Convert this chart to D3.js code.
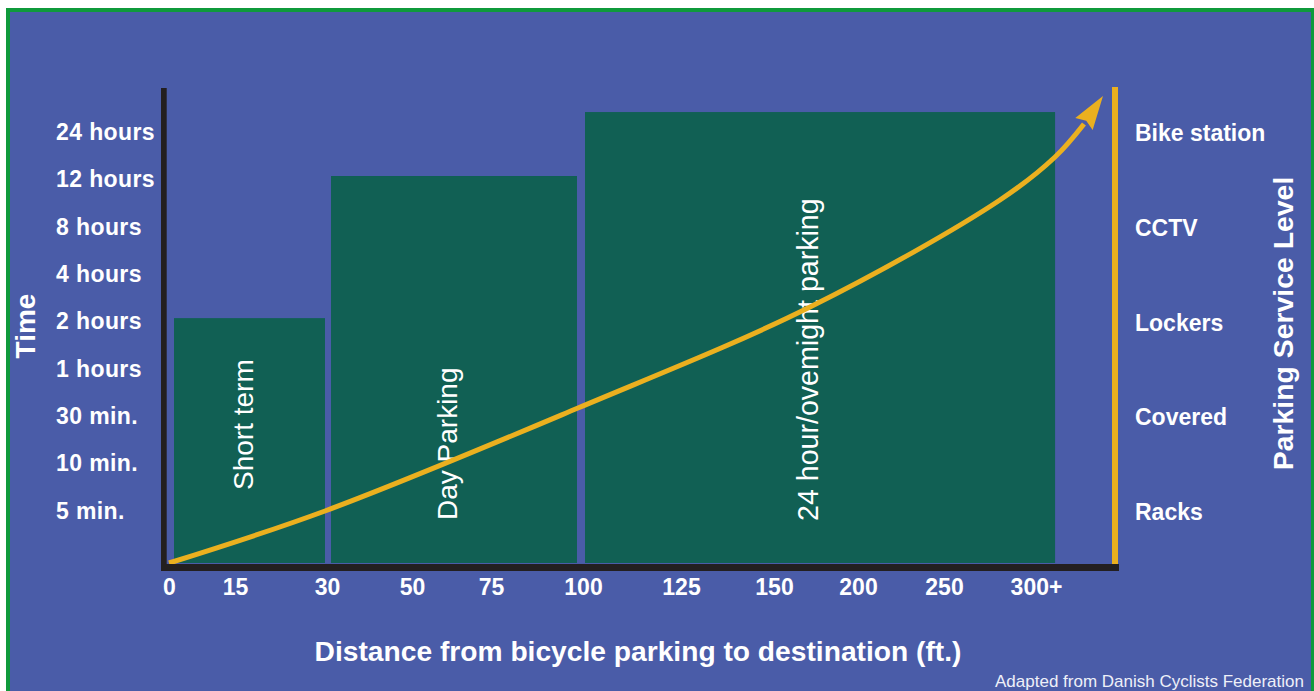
<!DOCTYPE html>
<html><head><meta charset="utf-8">
<script src="https://cdn.jsdelivr.net/npm/d3@7"></script>
<style>
html,body{margin:0;padding:0;background:#fff;}
svg{display:block;}
text{font-family:"Liberation Sans", Arial, Helvetica, sans-serif;}
</style>
</head><body>
<svg id="chart" width="1314" height="691"></svg>
<script>
// ---------- data ----------
const timeLabels = ["5 min.","10 min.","30 min.","1 hours","2 hours","4 hours","8 hours","12 hours","24 hours"];
const serviceLabels = ["Racks","Covered","Lockers","CCTV","Bike station"];
const distanceTicks = [0,15,30,50,75,100,125,150,200,250,300];
const distanceTickLabels = ["0","15","30","50","75","100","125","150","200","250","300+"];
const parkingTypes = ["Short term","Day Parking","24 hour/ovemight parking"];
const distanceFrom = [0,30,100];
const distanceTo = [30,100,312];
const timeLevel = [4.05,7.05,8.4];           // bar tops, in time-label steps
const curveX = [0,16.49,43.23,67.76,87.84,93.66,96.72]; // % of frame width
const curveY = [0,10.95,32.63,53.89,76.42,85.47,92.42]; // % of frame height
const arrowTip = [98.73,98.32];
const xTitle = "Distance from bicycle parking to destination (ft.)";
const yTitle = "Time";
const rightTitle = "Parking Service Level";
const credit = "Adapted from Danish Cyclists Federation";

// ---------- layout ----------
const W = 1314, H = 691;
const C = {bg:"#4a5ca8", frame:"#0f9a3b", bar:"#116054", yellow:"#ebb01f", axis:"#231f20", text:"#ffffff"};
const xTickPx = [169,235,327,412,491,583,681,774,858,944,1036];
const plotBottom = 563, plotTop = 88;
const frameLeft = 169, frameRight = 1115;
const labelShift = [5,2,-3];          // baseline offset from bar centre
const labelStartY = [490,520,521];
const gapL = [5,4,2], gapR = [2,6,3];

const svg = d3.select("#chart");
svg.append("rect").attr("x",0).attr("y",0).attr("width",W).attr("height",H).attr("fill","#fff");
svg.append("rect").attr("x",6).attr("y",8).attr("width",W-6).attr("height",H).attr("fill",C.frame);
svg.append("rect").attr("x",10).attr("y",12).attr("width",1301).attr("height",H).attr("fill",C.bg);

const x = d3.scaleLinear().domain(distanceTicks).range(xTickPx);
const y = d3.scaleLinear().domain([0,timeLabels.length-1]).range([510,131]);
const s = d3.scaleLinear().domain([0,serviceLabels.length-1]).range([511.5,132]);
const fx = d3.scaleLinear().domain([0,100]).range([frameLeft,frameRight]);
const fy = d3.scaleLinear().domain([0,100]).range([plotBottom,plotTop]);

// bars
const bars = parkingTypes.map((name,i)=>({name,from:distanceFrom[i],to:distanceTo[i],level:timeLevel[i],i}));
svg.append("g").selectAll("rect").data(bars).join("rect")
  .attr("x",d=>x(d.from)+gapL[d.i])
  .attr("width",d=>x(d.to)-x(d.from)-gapL[d.i]-gapR[d.i])
  .attr("y",d=>y(d.level))
  .attr("height",d=>plotBottom-y(d.level))
  .attr("fill",C.bar);

svg.append("g").selectAll("text").data(bars).join("text")
  .attr("transform",d=>{
    const cx=(x(d.from)+x(d.to))/2+labelShift[d.i];
    return `translate(${cx},${labelStartY[d.i]}) rotate(-90)`;})
  .attr("fill",C.text).attr("font-size",d=>d.i===2?28.6:28)
  .text(d=>d.name);

// curve arrow
const pts = curveX.map((v,i)=>[fx(v),fy(curveY[i])]);
svg.append("path")
  .attr("d",d3.line().curve(d3.curveCatmullRom.alpha(0.5))(pts))
  .attr("fill","none").attr("stroke",C.yellow).attr("stroke-width",5);
const base = pts[pts.length-1], tip=[fx(arrowTip[0]),fy(arrowTip[1])];
const dx=tip[0]-base[0], dy=tip[1]-base[1], L=Math.hypot(dx,dy);
const ux=dx/L, uy=dy/L, px=-uy, py=ux, hw=10.5;
const head=[tip,[base[0]+px*hw,base[1]+py*hw],[base[0]+ux*4,base[1]+uy*4],[base[0]-px*hw,base[1]-py*hw]];
svg.append("path").attr("d","M"+head.map(p=>p.join(",")).join("L")+"Z").attr("fill",C.yellow);

// axes lines
svg.append("rect").attr("x",161).attr("y",plotTop).attr("width",5.7).attr("height",571-plotTop).attr("fill",C.axis);
svg.append("rect").attr("x",161).attr("y",564).attr("width",958).attr("height",7).attr("fill",C.axis);
svg.append("rect").attr("x",frameRight-3).attr("y",87).attr("width",6).attr("height",plotBottom+1-87).attr("fill",C.yellow);

// tick labels
const font = '"Liberation Sans", Arial, sans-serif';
const xa = svg.append("g").attr("transform",`translate(0,578)`)
  .call(d3.axisBottom(x).tickValues(distanceTicks).tickFormat((d,i)=>distanceTickLabels[i]).tickSize(0).tickPadding(0));
xa.select(".domain").remove();
xa.selectAll("text").attr("fill",C.text).attr("font-size",23).attr("font-weight","bold")
  .attr("font-family",font).attr("dy","0.72em");

const ya = svg.append("g").attr("transform","translate(56,0)")
  .call(d3.axisRight(y).tickValues(d3.range(timeLabels.length)).tickFormat(i=>timeLabels[i]).tickSize(0).tickPadding(0));
ya.select(".domain").remove();
ya.selectAll("text").attr("fill",C.text).attr("font-size",23).attr("font-weight","bold")
  .attr("font-family",font).attr("dy","0.36em").attr("letter-spacing","0.4");

const sa = svg.append("g").attr("transform","translate(1135,0)")
  .call(d3.axisRight(s).tickValues(d3.range(serviceLabels.length)).tickFormat(i=>serviceLabels[i]).tickSize(0).tickPadding(0));
sa.select(".domain").remove();
sa.selectAll("text").attr("fill",C.text).attr("font-size",23).attr("font-weight","bold")
  .attr("font-family",font).attr("dy","0.36em");

// titles
svg.append("text").attr("x",638).attr("y",661).attr("text-anchor","middle")
  .attr("fill",C.text).attr("font-size",28.2).attr("font-weight","bold").text(xTitle);
svg.append("text").attr("transform","translate(35,326) rotate(-90)").attr("text-anchor","middle")
  .attr("fill",C.text).attr("font-size",28).attr("font-weight","bold").text(yTitle);
svg.append("text").attr("transform","translate(1293,323.5) rotate(-90)").attr("text-anchor","middle")
  .attr("fill",C.text).attr("font-size",28.4).attr("font-weight","bold").text(rightTitle);
svg.append("text").attr("x",995).attr("y",687).attr("fill","#eef0f8").attr("font-size",17).text(credit);
</script>
</body></html>
